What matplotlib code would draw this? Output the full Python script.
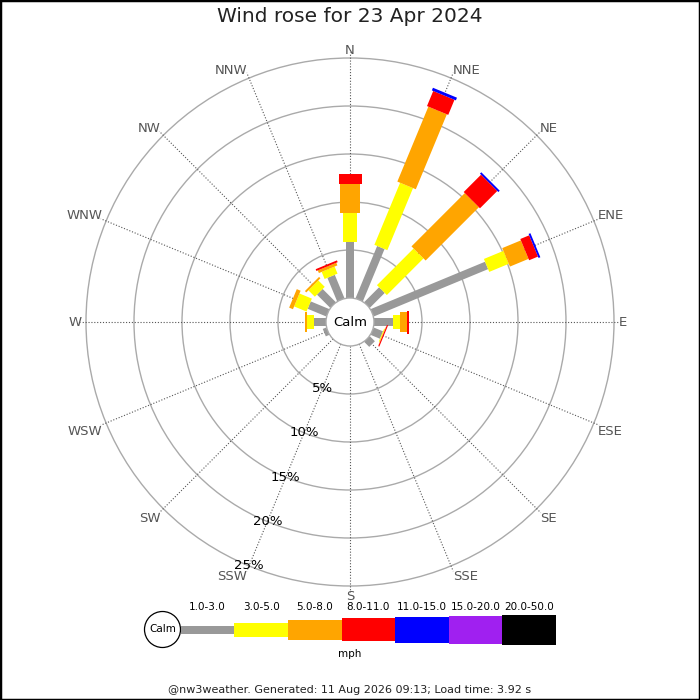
import numpy as np
import matplotlib
matplotlib.use("Agg")
import matplotlib.pyplot as plt
from matplotlib.patches import Polygon, Circle, Rectangle

# ---- data ----
directions = ['N', 'NNE', 'NE', 'ENE', 'E', 'ESE', 'SE', 'SSE',
              'S', 'SSW', 'SW', 'WSW', 'W', 'WNW', 'NW', 'NNW']
speed_bins = ['1.0-3.0', '3.0-5.0', '5.0-8.0', '8.0-11.0',
              '11.0-15.0', '15.0-20.0', '20.0-50.0']
bin_colors = ['#999999', '#ffff00', '#ffa500', '#ff0000',
              '#0000ff', '#a020f0', '#000000']

# % of the day per direction, one list per speed bin (mph)
freq_1_3 = [5.8, 5.9, 2.2, 12.9, 1.95, 1.05, 0.75, 0, 0, 0, 0, 0.4, 1.3, 2.1, 1.95, 2.65]
freq_3_5 = [3.1, 7.0, 5.4, 2.2, 0.8, 0.1, 0, 0, 0, 0, 0, 0, 0.7, 1.4, 0.95, 0.8]
freq_5_8 = [3.0, 8.45, 7.85, 2.1, 0.7, 0.03, 0, 0, 0, 0, 0, 0, 0.2, 0.43, 0.2, 0.3]
freq_8_11 = [1.0, 1.7, 2.55, 1.0, 0.2, 0.12, 0, 0, 0, 0, 0, 0, 0, 0, 0, 0.2]
freq_11_15 = [0, 0.3, 0.2, 0.2, 0, 0, 0, 0, 0, 0, 0, 0, 0, 0, 0, 0]
freq_15_20 = [0] * 16
freq_20_50 = [0] * 16

ring_pcts = [5, 10, 15, 20, 25]

title = "Wind rose for 23 Apr 2024"
footer = "@nw3weather. Generated: 11 Aug 2026 09:13; Load time: 3.92 s"

# ---- layout ----
PX = 9.6            # pixels per percent
CALM_R = 2.5        # calm circle radius (in % units)
CX, CY = 350, 322   # centre of rose in pixels
bar_px = [8, 14, 20, 23, 26, 28, 30]

fig = plt.figure(figsize=(7, 7), dpi=100)
ax = fig.add_axes([0, 0, 1, 1])
ax.set_xlim(-CX / PX, (700 - CX) / PX)
ax.set_ylim((CY - 700) / PX, CY / PX)
ax.set_aspect('equal')
ax.axis('off')

# rings
for p in ring_pcts:
    ax.add_patch(Circle((0, 0), CALM_R + p, fill=False, ec='#aaaaaa', lw=1.0, zorder=1))

# direction lines + labels
for i, d in enumerate(directions):
    th = np.radians(i * 22.5)
    s, c = np.sin(th), np.cos(th)
    ax.plot([CALM_R * s, 28.1 * s], [CALM_R * c, 28.1 * c], color='#555555',
            lw=0.8, ls=(0, (1, 1.6)), zorder=1)
    ha = 'left' if s > 0.1 else ('right' if s < -0.1 else 'center')
    va = 'baseline' if c > 0.1 else ('top' if c < -0.1 else 'center')
    rl = 27.95
    ax.text(rl * s, rl * c, d, ha=ha, va=va, fontsize=9.5, color='#555555', zorder=5)

# stacked bars
series = [freq_1_3, freq_3_5, freq_5_8, freq_8_11, freq_11_15, freq_15_20, freq_20_50]
for i in range(len(directions)):
    th = np.radians(i * 22.5)
    u = np.array([np.sin(th), np.cos(th)])
    p = np.array([np.cos(th), -np.sin(th)])
    r0 = CALM_R
    for k, vals in enumerate(series):
        v = vals[i]
        if v <= 0:
            continue
        r1 = r0 + v
        hw = bar_px[k] / PX / 2
        pts = [r0 * u - hw * p, r1 * u - hw * p, r1 * u + hw * p, r0 * u + hw * p]
        ax.add_patch(Polygon(pts, closed=True, fc=bin_colors[k], ec='none', zorder=3))
        r0 = r1

# calm circle
ax.add_patch(Circle((0, 0), CALM_R, fc='white', ec='#aaaaaa', lw=1.0, zorder=4))
ax.text(0, 0, 'Calm', ha='center', va='center', fontsize=9.5, zorder=5)

# percent labels along SSW
th = np.radians(202.5)
for p in ring_pcts:
    r = CALM_R + p
    ax.text(r * np.sin(th), r * np.cos(th), f"{p}%", ha='center', va='center',
            fontsize=9.5, color='black', zorder=6)

# ---- legend (pixel axes) ----
lax = fig.add_axes([0, 0, 1, 1])
lax.set_xlim(0, 700)
lax.set_ylim(700, 0)
lax.axis('off')

lx0, ly, seg = 180.7, 629.5, 53.6
lax.add_patch(Circle((162.5, ly), 18, fc='white', ec='black', lw=0.9))
lax.text(162.5, ly, 'Calm', ha='center', va='center', fontsize=7.5)
for k, lab in enumerate(speed_bins):
    x0 = lx0 + k * seg
    h = bar_px[k]
    lax.add_patch(Rectangle((x0, ly - h / 2), seg, h, fc=bin_colors[k], ec='none'))
    lax.text(x0 + seg / 2, 607, lab, ha='center', va='center', fontsize=7.5)
lax.text(350, 654, 'mph', ha='center', va='center', fontsize=7.5)

fig.text(0.5, 1 - 17 / 700, title, ha='center', va='center', fontsize=14.5, color='#222222')
fig.text(0.5, 1 - 690 / 700, footer, ha='center', va='center', fontsize=8, color='#222222')

# image border
fig.patches.append(Rectangle((0, 0), 1, 1, transform=fig.transFigure, fill=False,
                             ec='black', lw=2.5))

fig.savefig('out.png', dpi=100)
